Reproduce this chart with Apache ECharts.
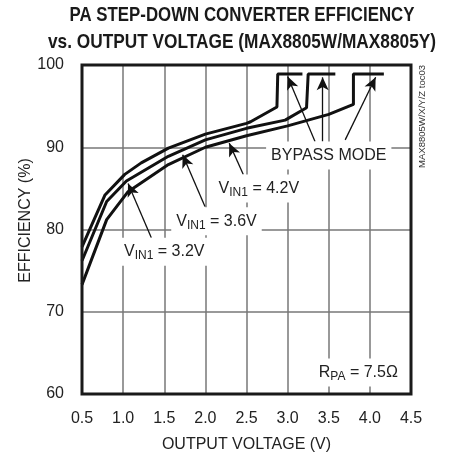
<!DOCTYPE html>
<html><head><meta charset="utf-8">
<script src="https://cdn.jsdelivr.net/npm/echarts@6/dist/echarts.min.js"></script>
<style>html,body{margin:0;padding:0;background:#fff}#c{width:460px;height:458px}</style>
</head><body><div id="c"></div>
<script>
// Curves: [output voltage (V), efficiency (%)]
const vin32 = [[0.5,77.9],[0.78,84.2],[1.02,86.7],[1.22,88.1],[1.55,89.9],[2.0,91.6],[2.5,92.9],[2.55,93.1],[2.87,94.9],[2.88,98.9],[3.18,98.9]];
const vin36 = [[0.5,76.2],[0.8,83.4],[1.04,85.9],[1.55,88.9],[2.0,90.9],[2.5,92.3],[2.97,93.3],[3.23,94.8],[3.25,98.9],[3.58,98.9]];
const vin42 = [[0.5,73.3],[0.8,81.2],[1.06,84.6],[1.55,87.9],[2.0,90.0],[2.5,91.4],[3.0,92.6],[3.5,94.0],[3.8,95.2],[3.8,98.9],[4.17,98.9]];
const seriesNames = ['VIN1 = 3.2V','VIN1 = 3.6V','VIN1 = 4.2V'];
// Axis ticks
const xTicks = [0.5,1.0,1.5,2.0,2.5,3.0,3.5,4.0,4.5];
const yTicks = [60,70,80,90,100];
// Annotation text: [x, y, text]
const noteLabels = [
  [1.50, 77.3, '{v|V}{s|IN1}{v| = 3.2V}'],
  [2.135, 81.0, '{v|V}{s|IN1}{v| = 3.6V}'],
  [2.65, 85.0, '{v|V}{s|IN1}{v| = 4.2V}'],
  [3.50, 89.0, '{v|BYPASS MODE}'],
  [3.86, 62.6, '{v|R}{s|PA}{v| = 7.5Ω}']
];
// Arrows: [fromX, fromY, toX, toY]
const arrows = [
  [1.343, 79.0, 1.06, 85.6],
  [1.995, 82.8, 1.724, 89.1],
  [2.461, 86.7, 2.29, 90.5],
  [3.333, 90.7, 3.0, 98.6],
  [3.426, 90.7, 3.426, 98.5],
  [3.70, 90.9, 4.07, 98.5]
];
const titleLines = ['PA STEP-DOWN CONVERTER EFFICIENCY','vs. OUTPUT VOLTAGE (MAX8805W/MAX8805Y)'];
const sideNote = 'MAX8805W/X/Y/Z toc03';

const FONT = '"Liberation Sans Narrow","Liberation Sans",Arial,sans-serif';
const TFONT = 'bold 21px "Liberation Sans",Arial,sans-serif';
const cvs = document.createElement('canvas').getContext('2d');
cvs.font = TFONT;
const titleTargets = [345, 388];
const titleY = [15, 42];
const titleGraphics = titleLines.map((t,i)=>{
  const w = cvs.measureText(t).width;
  return {type:'text', x:242, y:titleY[i], scaleX: titleTargets[i]/w,
    style:{text:t, font:TFONT, fill:'#1a1a1a', align:'center', verticalAlign:'middle'}};
});

const chart = echarts.init(document.getElementById('c'));
const curveStyle = {color:'#111', width:3};
const curves = [vin32, vin36, vin42].map((d,i)=>({
  name: seriesNames[i], type:'line', data:d, symbol:'none', lineStyle:curveStyle, z:3, silent:true
}));
chart.setOption({
  animation:false,
  grid:{left:82, right:49, top:65, bottom:63, show:true, borderColor:'#1a1a1a', borderWidth:3, z:4},
  xAxis:{
    type:'value', min:0.5, max:4.5, interval:0.5,
    name:'OUTPUT VOLTAGE (V)', nameLocation:'middle', nameGap:43, nameMoveOverlap:false,
    nameTextStyle:{fontFamily:FONT, fontSize:16, color:'#222'},
    axisLine:{show:false}, axisTick:{show:false},
    axisLabel:{fontFamily:FONT, fontSize:16, color:'#222', margin:17, formatter:v=>v.toFixed(1)},
    splitLine:{lineStyle:{color:'#777', width:1.5}}
  },
  yAxis:{
    type:'value', min:60, max:100, interval:10,
    name:'EFFICIENCY (%)', nameLocation:'middle', nameGap:48, nameRotate:90, nameMoveOverlap:false,
    nameTextStyle:{fontFamily:FONT, fontSize:16, color:'#222', padding:[0,0,0,18]},
    axisLine:{show:false}, axisTick:{show:false},
    axisLabel:{fontFamily:FONT, fontSize:16, color:'#222', margin:18},
    splitLine:{lineStyle:{color:'#777', width:1.5}}
  },
  graphic:[...titleGraphics, {
    type:'text', x:422, y:65, rotation:Math.PI/2,
    style:{text:sideNote, font:'9.5px '+FONT, fill:'#333', align:'right', verticalAlign:'middle'}
  }],
  series:[
    ...curves,
    {
      type:'line', data:[], z:5, silent:true,
      markLine:{
        silent:true, symbol:['none','arrow'], symbolSize:[9,13],
        lineStyle:{color:'#111', width:1.3, type:'solid'},
        label:{show:false},
        data: arrows.map(a=>[{coord:[a[0],a[1]]},{coord:[a[2],a[3]]}])
      }
    },
    {
      type:'line', data:[], z:2, silent:true,
      markPoint:{
        silent:true, symbol:'rect', symbolSize:1, itemStyle:{color:'rgba(0,0,0,0)'},
        label:{
          show:true, position:'inside', backgroundColor:'#fff', padding:[4,5,4,5],
          rich:{
            v:{fontFamily:FONT, fontSize:16, color:'#222', lineHeight:20},
            s:{fontFamily:FONT, fontSize:12, color:'#222', lineHeight:12, verticalAlign:'bottom'}
          }
        },
        data: noteLabels.map(n=>({coord:[n[0],n[1]], label:{formatter:n[2]}}))
      }
    }
  ]
});
</script></body></html>
